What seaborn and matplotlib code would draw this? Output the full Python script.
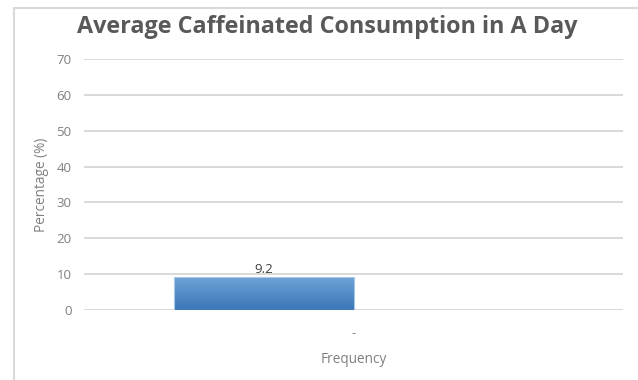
import numpy as np
import pandas as pd
import matplotlib
matplotlib.use("Agg")
import matplotlib.pyplot as plt
from matplotlib.colors import LinearSegmentedColormap
from matplotlib.lines import Line2D
import seaborn as sns

# Chart data
categories = ["-"]
series_names = ["Caffeinated", "Other"]
values = [9.2, np.nan]
y_ticks = [0, 10, 20, 30, 40, 50, 60, 70]

df = pd.DataFrame({
    "category": categories * len(series_names),
    "series": series_names,
    "value": values,
})

sns.set_theme(style="white")
plt.rcParams["font.family"] = ["Open Sans", "DejaVu Sans"]

fig = plt.figure(figsize=(6.38, 3.80), dpi=100)
ax = fig.add_axes([84 / 638, 1 - 310 / 380, (623 - 84) / 638, (310 - 59) / 380])

sns.barplot(data=df, x="category", y="value", hue="series",
            hue_order=series_names, ax=ax, legend=False,
            color="#4a86c5", saturation=1, width=0.8, errorbar=None)

ax.set_ylim(0, 70)
ax.set_xlim(-0.602, 0.602)
ax.set_yticks(y_ticks)
ax.set_yticklabels([str(t) for t in y_ticks])

# Gridlines
ax.grid(axis="y", color="#d9d9d9", linewidth=1.4)
ax.set_axisbelow(True)
for s in ax.spines.values():
    s.set_visible(False)

ax.tick_params(axis="y", length=0, pad=9, labelsize=9.5, labelcolor="#7f7f7f")
ax.tick_params(axis="x", length=0, pad=12, labelsize=9.5, labelcolor="#7f7f7f")

ax.set_ylabel("Percentage (%)", fontsize=9.8, color="#7f7f7f", labelpad=5)
ax.set_xlabel("Frequency", fontsize=9.8, color="#7f7f7f", labelpad=9)

# Vertical gradient fill on each drawn bar
cmap = LinearSegmentedColormap.from_list("barfill", ["#6fa3d7", "#3a76b6"])
grad = np.linspace(0, 1, 256).reshape(-1, 1)
container = ax.containers[0]
for bar in container:
    h = bar.get_height()
    if not np.isfinite(h) or h == 0:
        continue
    x0 = bar.get_x()
    w = bar.get_width()
    bar.set_facecolor("none")
    bar.set_edgecolor("#a9c8e8")
    bar.set_linewidth(0.8)
    im = ax.imshow(grad, extent=(x0, x0 + w, 0, h), aspect="auto",
                   cmap=cmap, origin="upper", zorder=bar.get_zorder() - 0.1)
    im.set_clip_path(bar)
ax.set_xlim(-0.602, 0.602)
ax.set_ylim(0, 70)

ax.bar_label(container, labels=[f"{v:g}" for v in values[:1]],
             padding=1, fontsize=9.5, color="#404040")

fig.suptitle("Average Caffeinated Consumption in A Day", x=(78 + 577) / 2 / 638,
             y=1 - 15 / 380, fontsize=16.8, fontweight="bold", color="#595959",
             va="top")

# Chart area frame
frame_color = "#d9d9d9"
fig.add_artist(Line2D([14 / 638, 1.0], [1 - 8 / 380, 1 - 8 / 380],
                      transform=fig.transFigure, color=frame_color, linewidth=1.5))
fig.add_artist(Line2D([14 / 638, 14 / 638], [0.0, 1 - 8 / 380],
                      transform=fig.transFigure, color=frame_color, linewidth=1.5))

fig.savefig("out.png", dpi=100)
